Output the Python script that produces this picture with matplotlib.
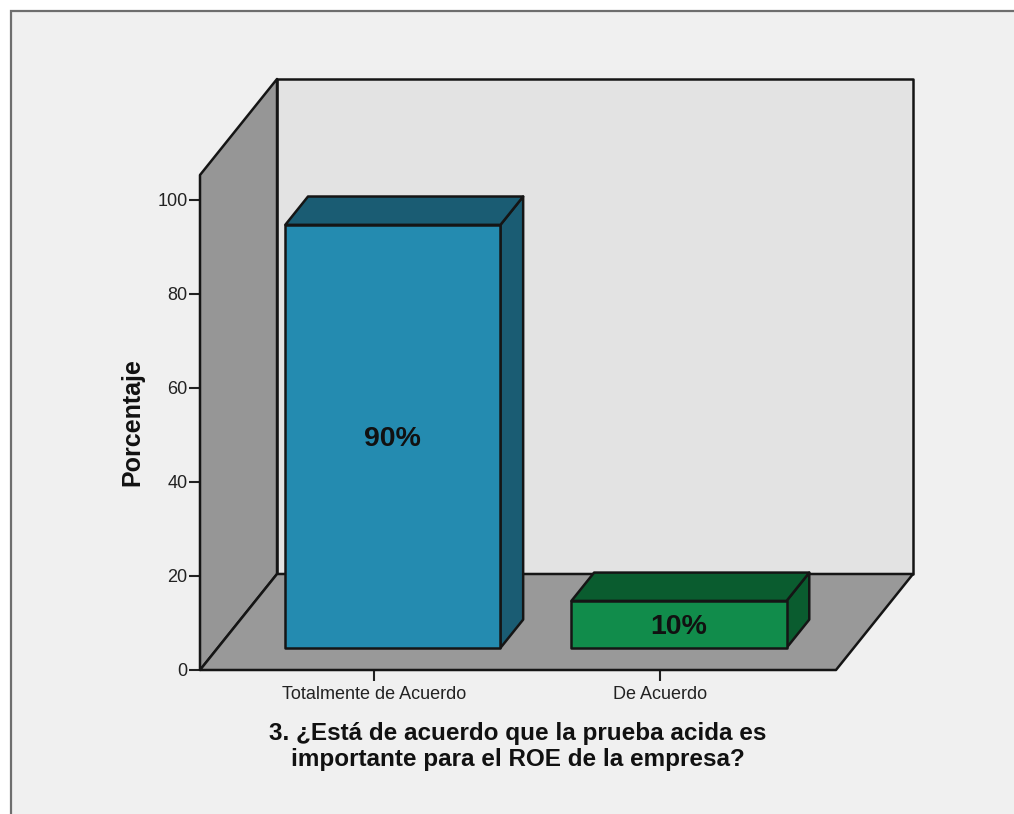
import matplotlib
matplotlib.use('Agg')
import matplotlib.pyplot as plt
from matplotlib.patches import Rectangle

categories = ['Totalmente de Acuerdo', 'De Acuerdo']
values = [90, 10]
labels = ['90%', '10%']
front_colors = ['#248bb0', '#118c4b']
dark_colors = ['#1a5c73', '#0a5c2f']
y_ticks = [0, 20, 40, 60, 80, 100]
x_label = '3. ¿Está de acuerdo que la prueba acida es\nimportante para el ROE de la empresa?'
y_label = 'Porcentaje'

plt.rcParams['font.family'] = ['Liberation Sans', 'DejaVu Sans']

W, H = 1014, 814
fig = plt.figure(figsize=(W / 100, H / 100), dpi=100, facecolor='white')

# outer frame of the chart, runs off the right and bottom edge
frame = Rectangle((10.5 / W, -0.02), 1.1, (H - 11) / H + 0.02, transform=fig.transFigure,
                  facecolor='#f0f0f0', edgecolor='#6e6e6e', linewidth=1.6, zorder=-1)
fig.add_artist(frame)

# axes covers the front plane of the 3D box
ax = fig.add_axes([200 / W, (H - 670) / H, 636 / W, 495 / H], facecolor='none')
xmin, xmax = -0.608, 1.615
ymax = 105.3
ax.set_xlim(xmin, xmax)
ax.set_ylim(0, ymax)

# depth of the box in data units
dx = 77 / 286
dy = 96 / 4.7
bar_width = 0.752
bar_shift = 1.2 / 286
bar_d0, bar_d1 = 0.23, 0.525


def face(xs, ys, color, d0=0.0, d1=None, z=1):
    # shift points by depth, d1 used for the rear points of a sloped face
    if d1 is None:
        px = [x + dx * d0 for x in xs]
        py = [y + dy * d0 for y in ys]
    else:
        ds = [d0, d1, d1, d0]
        px = [x + dx * d for x, d in zip(xs, ds)]
        py = [y + dy * d for y, d in zip(ys, ds)]
    ax.fill(px, py, facecolor=color, edgecolor='#151515', linewidth=1.8,
            joinstyle='round', clip_on=False, zorder=z)


# walls and floor
face([xmin, xmax, xmax, xmin], [0, 0, ymax, ymax], '#e3e3e3', d0=1.0, z=1)
face([xmin, xmin, xmin, xmin], [0, 0, ymax, ymax], '#969696', d0=0.0, d1=1.0, z=2)
face([xmin, xmin, xmax, xmax], [0, 0, 0, 0], '#999999', d0=0.0, d1=1.0, z=2)

# bars
for i, (val, lab) in enumerate(zip(values, labels)):
    left = i - bar_width / 2 + bar_shift
    right = i + bar_width / 2 + bar_shift
    z = 3 + i
    face([right, right, right, right], [0, 0, val, val], dark_colors[i], d0=bar_d0, d1=bar_d1, z=z)
    face([left, left, right, right], [val, val, val, val], dark_colors[i], d0=bar_d0, d1=bar_d1, z=z)
    face([left, right, right, left], [0, 0, val, val], front_colors[i], d0=bar_d0, z=z)
    ax.annotate(lab, (i + bar_shift + dx * bar_d0, val / 2 + dy * bar_d0),
                xytext=(0, -2), textcoords='offset points', ha='center', va='center',
                fontsize=20.5, fontweight='bold', color='#111111', zorder=10)

for s in ax.spines.values():
    s.set_visible(False)

ax.set_xticks(range(len(categories)))
ax.set_xticklabels(categories, fontsize=13, color='#222222')
ax.set_yticks(y_ticks)
ax.tick_params(axis='y', length=8, width=1.5, labelsize=13, color='#222222', labelcolor='#222222', pad=1)
ax.tick_params(axis='x', length=8, width=1.5, color='#222222', pad=3.5)
ax.set_xlabel(x_label, fontsize=17.5, fontweight='bold', color='#111111', labelpad=14, linespacing=1.15)
ax.set_ylabel(y_label, fontsize=18, fontweight='bold', color='#111111', labelpad=9)

fig.savefig('out.png', dpi=100, facecolor=fig.get_facecolor())
